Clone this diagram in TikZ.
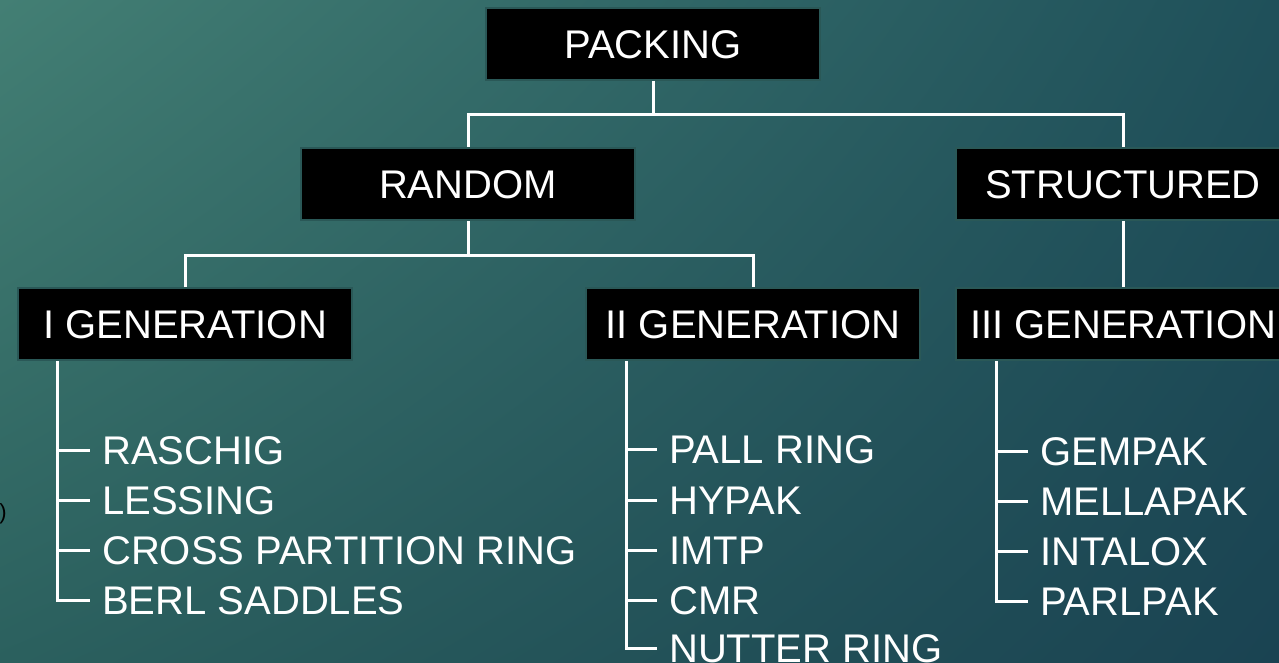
\documentclass[tikz,border=0pt]{standalone}
\usepackage{fontspec}
\setmainfont{Liberation Sans}
\usetikzlibrary{calc}
\usetikzlibrary{shadings}

\definecolor{bgUL}{HTML}{437F74}
\definecolor{bgUR}{HTML}{1F505A}
\definecolor{bgLL}{HTML}{2B605E}
\definecolor{bgLR}{HTML}{1A4352}
\definecolor{boxEdge}{HTML}{2A5857}

\tikzset{
    box/.style={fill=black, draw=boxEdge, line width=2pt, minimum width=334pt,
        minimum height=72pt, inner sep=0pt, text=white, text height=29pt,
        text depth=0pt, font=\fontsize{40}{48}\selectfont},
    item/.style={anchor=west, inner xsep=12pt, inner ysep=0pt, text=white,
        text height=29pt, text depth=0pt, font=\fontsize{40}{48}\selectfont},
    link/.style={draw=white, line width=3pt},
}

\begin{document}
\begin{tikzpicture}[x=1pt, y=-1pt]
    \useasboundingbox (0,0) rectangle (1279,663);
    \shade[upper left=bgUL, upper right=bgUR, lower left=bgLL, lower right=bgLR]
        (0,0) rectangle (1279,663);

    % tree boxes
    \node[box] (packing) at (653, 44) {PACKING};
    \node[box] (random) at (468, 184) {RANDOM};
    \node[box] (structured) at (1123, 184) {STRUCTURED};
    \node[box] (gen1) at (185, 324) {I GENERATION};
    \node[box] (gen2) at (753, 324) {II GENERATION};
    \node[box] (gen3) at (1123, 324) {III GENERATION};

    \coordinate (j1) at (653, 115);
    \coordinate (j2) at (468, 255);
    \draw[link] (packing.south) -- (j1);
    \draw[link] (random.north) |- (j1) -| (structured.north);
    \draw[link] (random.south) -- (j2);
    \draw[link] (gen1.north) |- (j2) -| (gen2.north);
    \draw[link] (structured.south) -- (gen3.north);

    % I generation
    \node[item] (raschig) at (90, 450) {RASCHIG};
    \node[item] (lessing) at (90, 500) {LESSING};
    \node[item] (cross) at (90, 550) {CROSS PARTITION RING};
    \node[item] (berl) at (90, 600) {BERL SADDLES};
    \coordinate (s1) at (57, 361);
    \draw[link] (s1) |- (berl.west);
    \foreach \n in {raschig, lessing, cross}
        \draw[link] (s1 |- \n.west) -- (\n.west);

    % II generation
    \node[item] (pall) at (657, 449) {PALL RING};
    \node[item] (hypak) at (657, 500) {HYPAK};
    \node[item] (imtp) at (657, 550) {IMTP};
    \node[item] (cmr) at (657, 600) {CMR};
    \node[item] (nutter) at (657, 648) {NUTTER RING};
    \coordinate (s2) at (626, 361);
    \draw[link] (s2) |- (nutter.west);
    \foreach \n in {pall, hypak, imtp, cmr}
        \draw[link] (s2 |- \n.west) -- (\n.west);

    % III generation
    \node[item] (gempak) at (1028, 451) {GEMPAK};
    \node[item] (mellapak) at (1028, 501) {MELLAPAK};
    \node[item] (intalox) at (1028, 551) {INTALOX};
    \node[item] (parlpak) at (1028, 601) {PARLPAK};
    \coordinate (s3) at (996, 361);
    \draw[link] (s3) |- (parlpak.west);
    \foreach \n in {gempak, mellapak, intalox}
        \draw[link] (s3 |- \n.west) -- (\n.west);

    \node[anchor=east, inner sep=0pt, text=black, font=\fontsize{22}{26}\selectfont]
        (paren) at (7, 514) {)};
\end{tikzpicture}
\end{document}
